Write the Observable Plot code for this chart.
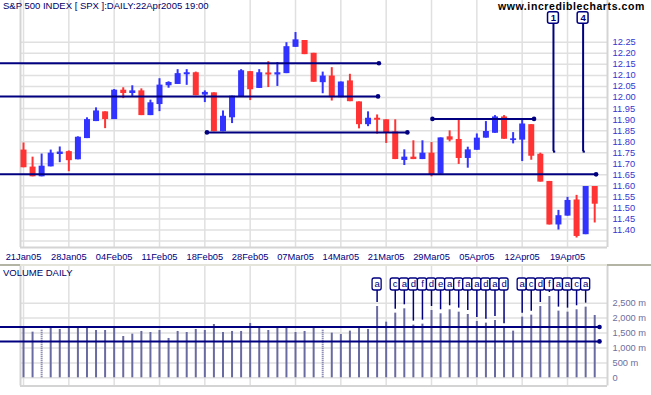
<!DOCTYPE html>
<html><head><meta charset="utf-8">
<script src="https://cdn.jsdelivr.net/npm/d3@7"></script>
<script src="https://cdn.jsdelivr.net/npm/@observablehq/plot@0.6"></script>
<style>
html,body{margin:0;padding:0;background:#fff;}
#wrap{position:relative;width:651px;height:395px;overflow:hidden;background:#fff;font-family:"Liberation Sans",Arial,sans-serif;}
.abs{position:absolute;}
#title{left:3px;top:1px;font-size:9.5px;line-height:10px;color:#000066;white-space:nowrap;}
#site{right:6px;top:1px;font-size:10.5px;font-weight:bold;letter-spacing:0.6px;line-height:11px;color:#000;white-space:nowrap;}
#vol{left:3px;top:268px;font-size:9.5px;line-height:10px;color:#000066;white-space:nowrap;}
#pricebox{left:0;top:0;}
#volbox{left:0;top:262px;}
.div1{top:264px;height:2px;background:#e4e4da;}
</style></head>
<body><div id="wrap">
<div id="pricebox" class="abs"></div>
<div id="volbox" class="abs"></div>
<div class="abs div1" style="left:0;width:20px;background:#b4b4a4"></div>
<div class="abs div1" style="left:20px;width:587px;"></div>
<div class="abs div1" style="left:607px;width:44px;background:#b4b4a4"></div>
<div id="title" class="abs">S&amp;P 500 INDEX [ SPX ]:DAILY:22Apr2005 19:00</div>
<div id="site" class="abs">www.incrediblecharts.com</div>
<div id="vol" class="abs">VOLUME DAILY</div>
</div>
<script>
// ---------- data ----------
const dateLabels = ["21Jan05","28Jan05","04Feb05","11Feb05","18Feb05","28Feb05","07Mar05","14Mar05","21Mar05","29Mar05","05Apr05","12Apr05","19Apr05"];
const dateTickIndex = [0,5,10,15,20,25,30,35,40,45,50,55,60];

const open  = [11.762,11.685,11.641,11.686,11.742,11.755,11.718,11.814,11.891,11.935,
               11.900,12.033,12.018,12.030,11.918,11.968,12.053,12.059,12.103,12.112,
               12.011,12.021,11.845,11.908,12.000,12.117,12.041,12.111,12.102,12.108,
               12.227,12.258,12.200,12.067,12.097,11.999,12.075,11.980,11.877,11.906,
               11.899,11.844,11.715,11.730,11.719,11.748,11.653,11.822,11.810,11.724,
               11.761,11.816,11.838,11.912,11.805,11.807,11.877,11.743,11.620,11.423,
               11.463,11.536,11.379,11.597];
const high  = [11.794,11.730,11.744,11.762,11.776,11.758,11.822,11.908,11.953,11.935,
               12.036,12.044,12.053,12.039,11.988,12.085,12.071,12.126,12.126,12.115,
               12.030,12.021,11.939,12.006,12.126,12.117,12.126,12.162,12.158,12.248,
               12.294,12.258,12.200,12.115,12.135,12.070,12.105,11.980,11.935,11.921,
               11.899,11.899,11.763,11.804,11.804,11.796,11.817,11.849,11.897,11.775,
               11.835,11.891,11.918,11.918,11.841,11.898,11.877,11.748,11.620,11.489,
               11.548,11.557,11.597,11.597];
const low   = [11.682,11.641,11.641,11.686,11.705,11.664,11.718,11.814,11.891,11.859,
               11.900,11.995,12.005,11.918,11.918,11.936,12.042,12.059,12.055,12.008,
               11.977,11.845,11.845,11.882,12.000,11.986,12.041,12.045,12.050,12.108,
               12.227,12.194,12.069,12.017,11.984,11.999,11.981,11.858,11.868,11.834,
               11.792,11.719,11.692,11.719,11.719,11.641,11.653,11.799,11.697,11.680,
               11.761,11.816,11.838,11.811,11.790,11.710,11.716,11.617,11.423,11.400,
               11.463,11.364,11.379,11.432];
const close = [11.682,11.641,11.689,11.748,11.753,11.714,11.820,11.900,11.939,11.900,
               12.033,12.018,12.030,11.918,11.976,12.056,12.068,12.108,12.112,12.008,
               12.023,11.845,11.915,12.006,12.121,12.035,12.112,12.102,12.112,12.230,
               12.261,12.194,12.069,12.097,11.999,12.070,11.981,11.877,11.906,11.897,
               11.837,11.719,11.730,11.719,11.748,11.649,11.817,11.807,11.724,11.763,
               11.816,11.846,11.912,11.811,11.813,11.880,11.734,11.617,11.423,11.465,
               11.534,11.371,11.597,11.517];
const volume = [1698,1530,1620,1698,1620,1698,1720,1720,1586,1586,
                1676,1385,1463,1553,1519,1586,1318,1553,1519,1620,
                1586,1787,1519,1553,1553,1821,1720,1586,1676,1687,
                1519,1553,1720,1620,1497,1452,1564,1676,1620,2390,
                1865,2167,2312,1765,1798,2256,2145,2279,2200,2122,
                1888,1832,1921,1676,1564,2033,2100,2390,2725,2234,
                2200,2279,2368,2089];
const dottedBars = [2,33];

const priceTicks = [11.40,11.45,11.50,11.55,11.60,11.65,11.70,11.75,11.80,11.85,11.90,11.95,12.00,12.05,12.10,12.15,12.20,12.25];
const priceGrid = [11.35,11.40,11.45,11.50,11.55,11.60,11.65,11.70,11.75,11.80,11.85,11.90,11.95,12.00,12.05,12.10,12.15,12.20,12.25];
const volumeTicks = [0,500,1000,1500,2000,2500];

// horizontal trend lines (price level, start index, end index, dot at start)
const lineLevel = [12.155,12.005,11.842,11.903,11.652];
const lineStart = [-2.54,-2.54,20.23,45.1,-2.54];
const lineEnd   = [39.2,39.1,42.34,56.31,63.15];
const lineStartDot = [false,false,true,true,false];
const volLineLevel = [1700,1220];
const volLineStart = [-2.54,-2.54];
const volLineEnd = [63.53,63.53];

// price annotations
const annotIndex = [58.45,61.72];
const annotText = ["1","4"];
const annotLevel = [11.755,11.755];

// volume flags
const flagIndex = [39,41,42,43,44,45,46,47,48,49,50,51,52,53,55,56,57,58,59,60,61,62];
const flagText  = ["a","c","a","d","f","d","e","a","f","a","a","d","a","d","a","c","d","f","a","a","c","a"];

// ---------- build ----------
const BLUE = "#3333ff", RED = "#ff3333", NAVY = "#000080", GRID = "#e0e0e0", FRAME = "#d4d4d4", VOLC = "#6a6aa2";
const candles = open.map((o,i) => ({i, o, h: high[i], l: low[i], c: close[i], up: close[i] >= o}));
const lines = lineLevel.map((y,k) => ({y, x1: lineStart[k], x2: lineEnd[k], sd: lineStartDot[k]}));
const volLines = volLineLevel.map((y,k) => ({y, x1: volLineStart[k], x2: volLineEnd[k]}));
const annots = annotIndex.map((x,k) => ({x, t: annotText[k], y: annotLevel[k]}));
const bars = volume.map((v,i) => ({i, v, dotted: dottedBars.includes(i)}));
const flags = flagIndex.map((i,k) => ({i, t: flagText[k], v: volume[i]}));

const xDomain = [-0.331, 64.41];
const priceDomain = [11.321, 12.439];
const volDomain = [-275, 3730];
const baseStyle = {fontFamily: "Liberation Sans, Arial, sans-serif", fontSize: "9.3px", background: "none", overflow: "visible"};

const price = Plot.plot({
  width: 651, height: 262,
  marginLeft: 20, marginRight: 44, marginTop: 0, marginBottom: 15,
  style: baseStyle,
  x: {domain: xDomain, ticks: dateTickIndex, tickFormat: d => dateLabels[dateTickIndex.indexOf(d)], tickSize: 0, tickPadding: 6, label: null},
  y: {domain: priceDomain, axis: "right", ticks: priceTicks, tickFormat: d3.format(".2f"), tickSize: 0, tickPadding: 5, label: null},
  marks: [
    Plot.ruleY(priceGrid, {stroke: GRID, strokeWidth: 1.5}),
    Plot.ruleX(dateTickIndex, {stroke: GRID, strokeWidth: 1.5}),
    Plot.ruleX(xDomain, {stroke: FRAME, strokeWidth: 2}),
    Plot.ruleY([priceDomain[0]], {stroke: FRAME, strokeWidth: 2}),
    Plot.ruleX(candles, {x: "i", y1: "l", y2: "h", stroke: d => d.up ? BLUE : RED, strokeWidth: 2}),
    Plot.ruleX(candles, {x: "i", y1: "o", y2: "c", stroke: d => d.up ? BLUE : RED, strokeWidth: 6}),
    Plot.ruleY(lines, {y: "y", x1: "x1", x2: "x2", stroke: NAVY, strokeWidth: 2}),
    Plot.dot(lines, {x: "x2", y: "y", r: 2.3, fill: NAVY}),
    Plot.dot(lines.filter(d => d.sd), {x: "x1", y: "y", r: 2.3, fill: NAVY}),
    Plot.ruleX(annots, {x: "x", y1: () => priceDomain[1], y2: "y", insetTop: 23.3, stroke: NAVY, strokeWidth: 2}),
    Plot.ruleY(annots, {y: "y", x1: "x", x2: d => d.x + 0.25, stroke: NAVY, strokeWidth: 2}),
    Plot.rect(annots, {x1: d => d.x - 0.6, x2: d => d.x + 0.6, insetTop: 11.7, insetBottom: 223.7, fill: "white", stroke: NAVY, strokeWidth: 1.5, rx: 2}),
    Plot.text(annots, {x: "x", text: "t", frameAnchor: "top", lineAnchor: "middle", dy: 17.8, fill: NAVY, fontWeight: "bold", fontSize: 9.5})
  ]
});

const vol = Plot.plot({
  width: 651, height: 133,
  marginLeft: 20, marginRight: 44, marginTop: 4, marginBottom: 9.5,
  style: baseStyle,
  x: {domain: xDomain, axis: null},
  y: {domain: volDomain, axis: "right", ticks: volumeTicks, tickFormat: d => d === 0 ? "0" : d3.format(",")(d) + " m", tickSize: 0, tickPadding: 5, label: null},
  marks: [
    Plot.ruleY(volumeTicks, {stroke: GRID, strokeWidth: 1.5}),
    Plot.ruleX(dateTickIndex, {stroke: GRID, strokeWidth: 1.5}),
    Plot.ruleX(xDomain, {stroke: FRAME, strokeWidth: 2}),
    Plot.ruleY([volDomain[0]], {stroke: FRAME, strokeWidth: 2}),
    Plot.ruleX(bars.filter(d => !d.dotted), {x: "i", y1: 0, y2: "v", stroke: VOLC, strokeWidth: 2}),
    Plot.ruleX(bars.filter(d => d.dotted), {x: "i", y1: 0, y2: "v", stroke: VOLC, strokeWidth: 2, strokeDasharray: "1,1"}),
    Plot.ruleY(volLines, {y: "y", x1: "x1", x2: "x2", stroke: NAVY, strokeWidth: 2}),
    Plot.dot(volLines, {x: "x2", y: "y", r: 2.3, fill: NAVY}),
    Plot.ruleX(flags, {x: "i", y1: () => volDomain[1], y2: "v", insetTop: 24, insetBottom: 4, stroke: NAVY, strokeWidth: 1.5}),
    Plot.rect(flags, {x1: d => d.i - 0.5, x2: d => d.i + 0.5, insetTop: 12, insetBottom: 95.5, fill: "white", stroke: NAVY, strokeWidth: 1.3, rx: 2}),
    Plot.text(flags, {x: "i", text: "t", frameAnchor: "top", lineAnchor: "middle", dy: 17.6, fill: NAVY, fontSize: 9.5})
  ]
});

document.getElementById("pricebox").appendChild(price);
document.getElementById("volbox").appendChild(vol);

d3.select(price).selectAll('[aria-label^="y-axis"] text').attr("fill", "#3535d0");
d3.select(price).selectAll('[aria-label^="x-axis"] text').attr("fill", "#000080");
d3.select(vol).selectAll('[aria-label^="y-axis"] text').attr("fill", "#6e6e9e");
</script>
</body></html>
